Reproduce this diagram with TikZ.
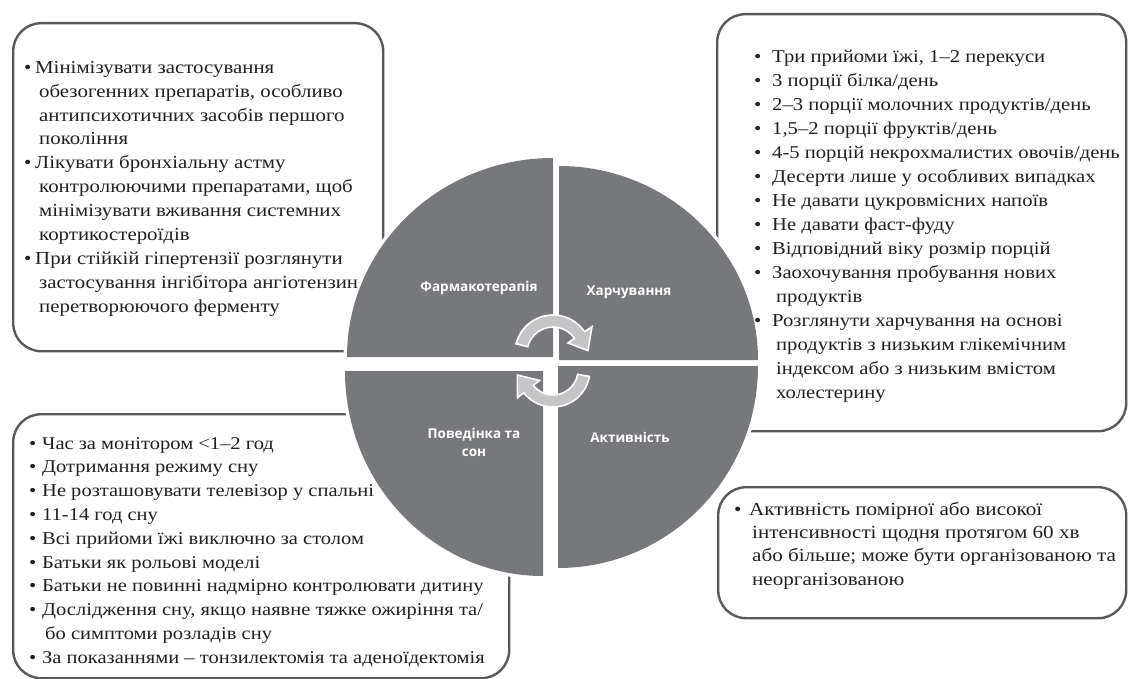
\documentclass[tikz,border=0pt]{standalone}
\usepackage{fontspec}
\setmainfont[FakeStretch=1.14]{Liberation Serif}
\newfontfamily\qfont{Open Sans}
\definecolor{quad}{HTML}{77787B}
\definecolor{arr}{HTML}{C4C5C7}
\definecolor{framec}{HTML}{58595B}
\definecolor{txt}{HTML}{231F20}
\newcommand\itm[1]{\makebox[#1][l]{•}}
\newcommand\cnt[1]{\hspace*{#1}}
\begin{document}
\begin{tikzpicture}[x=1pt,y=1pt,
  box/.style={draw=framec, line width=2.4pt, rounded corners=28pt, anchor=north west, inner sep=0pt},
  txtblock/.style={anchor=north west, inner sep=0pt, align=left, text=txt, font=\fontsize{18.3}{23.9}\selectfont},
  quadedge/.style={draw=white, line width=7pt},
  quadfill/.style={fill=quad},
  qlabel/.style={text=white, font=\qfont\bfseries\fontsize{13.5}{18}\selectfont, align=center},
  cyc/.style={fill=arr, draw=white, line width=1.6pt, line join=miter}]
\fill[white] (0,0) rectangle (1128,-679);
\useasboundingbox (0,0) rectangle (1128,-679);

% boxes
\node[box, minimum width=370pt, minimum height=328pt] (boxPharm) at (12,-22) {};
\node[box, minimum width=409pt, minimum height=417pt] (boxNutr) at (716,-13) {};
\node[box, minimum width=496pt, minimum height=264pt] (boxBeh) at (12,-413) {};
\node[box, minimum width=408pt, minimum height=131pt] (boxAct) at (717,-486) {};

% quadrant outlines (white halo)
\path[quadedge] (553,-357) -- ++(-206,0) arc[start angle=180,end angle=90,x radius=206,y radius=199] -- cycle;
\path[quadedge] (559,-360) -- ++(0,194) arc[start angle=90,end angle=0,x radius=199,y radius=194] -- cycle;
\path[quadedge] (558,-366) -- ++(200,0) arc[start angle=0,end angle=-90,x radius=200,y radius=202] -- cycle;
\path[quadedge] (543,-371) -- ++(0,-205) arc[start angle=-90,end angle=-180,x radius=198,y radius=205] -- cycle;
% quadrants
\path[quadfill] (553,-357) -- ++(-206,0) arc[start angle=180,end angle=90,x radius=206,y radius=199] -- cycle;
\path[quadfill] (559,-360) -- ++(0,194) arc[start angle=90,end angle=0,x radius=199,y radius=194] -- cycle;
\path[quadfill] (558,-366) -- ++(200,0) arc[start angle=0,end angle=-90,x radius=200,y radius=202] -- cycle;
\path[quadfill] (543,-371) -- ++(0,-205) arc[start angle=-90,end angle=-180,x radius=198,y radius=205] -- cycle;

% cycle arrows
\coordinate (ctop) at (553,-353);
\coordinate (cbot) at (553,-370);
\path[cyc] ([shift={(ctop)}]166:38) arc[start angle=166,end angle=34,radius=38]
  -- ([shift={(ctop)}]34:47) -- ([shift={(ctop)}]4:35) -- ([shift={(ctop)}]34:18)
  -- ([shift={(ctop)}]34:26) arc[start angle=34,end angle=166,radius=26] -- cycle;
\path[cyc] ([shift={(cbot)}]-10:37) arc[start angle=-10,end angle=-142,radius=37]
  -- ([shift={(cbot)}]-142:45) -- ([shift={(cbot)}]-172:36) -- ([shift={(cbot)}]-142:17)
  -- ([shift={(cbot)}]-142:25) arc[start angle=-142,end angle=-10,radius=25] -- cycle;

% quadrant labels
\node[qlabel] (lPharm) at (479,-288) {Фармакотерапія};
\node[qlabel] (lNutr) at (629,-292) {Харчування};
\node[qlabel] (lBeh) at (474,-442) {Поведінка та\\сон};
\node[qlabel] (lAct) at (630,-437) {Активність};

% texts
\node[txtblock] (tPharm) at (24,-56.3) {\strut\itm{11pt}Мінімізувати застосування\\
\cnt{15pt}обезогенних препаратів, особливо\\
\cnt{15pt}антипсихотичних засобів першого\\
\cnt{15pt}покоління\\
\itm{11pt}Лікувати бронхіальну астму\\
\cnt{15pt}контролюючими препаратами, щоб\\
\cnt{15pt}мінімізувати вживання системних\\
\cnt{15pt}кортикостероїдів\\
\itm{11pt}При стійкій гіпертензії розглянути\\
\cnt{15pt}застосування інгібітора ангіотензин\\
\cnt{15pt}перетворюючого ферменту};

\node[txtblock, font=\fontsize{18.1}{24}\selectfont] (tNutr) at (754,-45.2) {\strut\itm{18pt}Три прийоми їжі, 1–2 перекуси\\
\itm{18pt}3 порції білка/день\\
\itm{18pt}2–3 порції молочних продуктів/день\\
\itm{18pt}1,5–2 порції фруктів/день\\
\itm{18pt}4-5 порцій некрохмалистих овочів/день\\
\itm{18pt}Десерти лише у особливих випадках\\
\itm{18pt}Не давати цукровмісних напоїв\\
\itm{18pt}Не давати фаст-фуду\\
\itm{18pt}Відповідний віку розмір порцій\\
\itm{18pt}Заохочування пробування нових\\
\cnt{22pt}продуктів\\
\itm{18pt}Розглянути харчування на основі\\
\cnt{22pt}продуктів з низьким глікемічним\\
\cnt{22pt}індексом або з низьким вмістом\\
\cnt{22pt}холестерину};

\node[txtblock, font=\fontsize{18}{23.8}\selectfont] (tBeh) at (29,-432.3) {\strut\itm{13pt}Час за монітором <1–2 год\\
\itm{13pt}Дотримання режиму сну\\
\itm{13pt}Не розташовувати телевізор у спальні\\
\itm{13pt}11-14 год сну\\
\itm{13pt}Всі прийоми їжі виключно за столом\\
\itm{13pt}Батьки як рольові моделі\\
\itm{13pt}Батьки не повинні надмірно контролювати дитину\\
\itm{13pt}Дослідження сну, якщо наявне тяжке ожиріння та/\\
\cnt{16pt}бо симптоми розладів сну\\
\itm{13pt}За показаннями – тонзилектомія та аденоїдектомія};

\node[txtblock, font=\fontsize{18.5}{23.4}\selectfont] (tAct) at (734,-498.6) {\strut\itm{15pt}Активність помірної або високої\\
\cnt{18pt}інтенсивності щодня протягом 60 хв\\
\cnt{18pt}або більше; може бути організованою та\\
\cnt{18pt}неорганізованою};
\end{tikzpicture}
\end{document}
